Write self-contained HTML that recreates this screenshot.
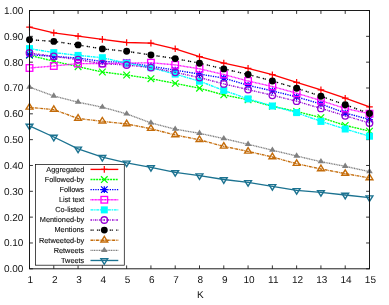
<!DOCTYPE html>
<html><head><meta charset="utf-8"><title>chart</title><style>html,body{margin:0;padding:0;background:#fff}body{width:389px;height:305px;overflow:hidden}</style></head><body>
<svg width="389" height="305" viewBox="0 0 389 305" style="display:block;font-family:'Liberation Sans',sans-serif">
<rect width="389" height="305" fill="#fff"/>
<path d="M29.5 268.8h3.4M369.5 268.8h-3.4M29.5 242.97h3.4M369.5 242.97h-3.4M29.5 217.14h3.4M369.5 217.14h-3.4M29.5 191.31h3.4M369.5 191.31h-3.4M29.5 165.48h3.4M369.5 165.48h-3.4M29.5 139.65h3.4M369.5 139.65h-3.4M29.5 113.82h3.4M369.5 113.82h-3.4M29.5 87.99h3.4M369.5 87.99h-3.4M29.5 62.16h3.4M369.5 62.16h-3.4M29.5 36.33h3.4M369.5 36.33h-3.4M29.5 10.5h3.4M369.5 10.5h-3.4M29.5 268.8v-3.4M29.5 10.5v3.4M53.79 268.8v-3.4M53.79 10.5v3.4M78.07 268.8v-3.4M78.07 10.5v3.4M102.36 268.8v-3.4M102.36 10.5v3.4M126.64 268.8v-3.4M126.64 10.5v3.4M150.93 268.8v-3.4M150.93 10.5v3.4M175.21 268.8v-3.4M175.21 10.5v3.4M199.5 268.8v-3.4M199.5 10.5v3.4M223.79 268.8v-3.4M223.79 10.5v3.4M248.07 268.8v-3.4M248.07 10.5v3.4M272.36 268.8v-3.4M272.36 10.5v3.4M296.64 268.8v-3.4M296.64 10.5v3.4M320.93 268.8v-3.4M320.93 10.5v3.4M345.21 268.8v-3.4M345.21 10.5v3.4M369.5 268.8v-3.4M369.5 10.5v3.4" stroke="#000" stroke-width="0.8" fill="none"/>
<rect x="35.6" y="164.5" width="88.7" height="100.7" fill="#fff" stroke="#111" stroke-width="0.75"/>
<g><path d="M90.5 169.4H118.3" stroke="#ff0000" stroke-width="1.35" fill="none"/><polyline points="29.5,27.2 53.79,32.9 78.07,36.2 102.36,39.4 126.64,42.5 150.93,43.1 175.21,48.8 199.5,56.7 223.79,63.1 248.07,68.4 272.36,74.7 296.64,82.3 320.93,89.9 345.21,98.2 369.5,106.8" stroke="#ff0000" stroke-width="1.35" fill="none" stroke-linejoin="round"/><path d="M101 169.4H107.6M104.3 166.1V172.7" stroke="#ff0000" stroke-width="1.2" fill="none"/><path d="M26.2 27.2H32.8M29.5 23.9V30.5" stroke="#ff0000" stroke-width="1.2" fill="none"/><path d="M50.49 32.9H57.09M53.79 29.6V36.2" stroke="#ff0000" stroke-width="1.2" fill="none"/><path d="M74.77 36.2H81.37M78.07 32.9V39.5" stroke="#ff0000" stroke-width="1.2" fill="none"/><path d="M99.06 39.4H105.66M102.36 36.1V42.7" stroke="#ff0000" stroke-width="1.2" fill="none"/><path d="M123.34 42.5H129.94M126.64 39.2V45.8" stroke="#ff0000" stroke-width="1.2" fill="none"/><path d="M147.63 43.1H154.23M150.93 39.8V46.4" stroke="#ff0000" stroke-width="1.2" fill="none"/><path d="M171.91 48.8H178.51M175.21 45.5V52.1" stroke="#ff0000" stroke-width="1.2" fill="none"/><path d="M196.2 56.7H202.8M199.5 53.4V60" stroke="#ff0000" stroke-width="1.2" fill="none"/><path d="M220.49 63.1H227.09M223.79 59.8V66.4" stroke="#ff0000" stroke-width="1.2" fill="none"/><path d="M244.77 68.4H251.37M248.07 65.1V71.7" stroke="#ff0000" stroke-width="1.2" fill="none"/><path d="M269.06 74.7H275.66M272.36 71.4V78" stroke="#ff0000" stroke-width="1.2" fill="none"/><path d="M293.34 82.3H299.94M296.64 79V85.6" stroke="#ff0000" stroke-width="1.2" fill="none"/><path d="M317.63 89.9H324.23M320.93 86.6V93.2" stroke="#ff0000" stroke-width="1.2" fill="none"/><path d="M341.91 98.2H348.51M345.21 94.9V101.5" stroke="#ff0000" stroke-width="1.2" fill="none"/><path d="M366.2 106.8H372.8M369.5 103.5V110.1" stroke="#ff0000" stroke-width="1.2" fill="none"/></g>
<g><path d="M90.5 179.52H118.3" stroke="#00ff00" stroke-width="1.35" fill="none" stroke-dasharray="2.0 0.8"/><polyline points="29.5,55.3 53.79,61.2 78.07,66.7 102.36,72 126.64,75 150.93,78.7 175.21,83.4 199.5,88.2 223.79,94.9 248.07,99.8 272.36,106.2 296.64,111.5 320.93,117.6 345.21,125.4 369.5,131.1" stroke="#00ff00" stroke-width="1.35" fill="none" stroke-dasharray="2.0 0.8" stroke-linejoin="round"/><path d="M101 176.22L107.6 182.82M101 182.82L107.6 176.22" stroke="#00ff00" stroke-width="1.2" fill="none"/><path d="M26.2 52L32.8 58.6M26.2 58.6L32.8 52" stroke="#00ff00" stroke-width="1.2" fill="none"/><path d="M50.49 57.9L57.09 64.5M50.49 64.5L57.09 57.9" stroke="#00ff00" stroke-width="1.2" fill="none"/><path d="M74.77 63.4L81.37 70M74.77 70L81.37 63.4" stroke="#00ff00" stroke-width="1.2" fill="none"/><path d="M99.06 68.7L105.66 75.3M99.06 75.3L105.66 68.7" stroke="#00ff00" stroke-width="1.2" fill="none"/><path d="M123.34 71.7L129.94 78.3M123.34 78.3L129.94 71.7" stroke="#00ff00" stroke-width="1.2" fill="none"/><path d="M147.63 75.4L154.23 82M147.63 82L154.23 75.4" stroke="#00ff00" stroke-width="1.2" fill="none"/><path d="M171.91 80.1L178.51 86.7M171.91 86.7L178.51 80.1" stroke="#00ff00" stroke-width="1.2" fill="none"/><path d="M196.2 84.9L202.8 91.5M196.2 91.5L202.8 84.9" stroke="#00ff00" stroke-width="1.2" fill="none"/><path d="M220.49 91.6L227.09 98.2M220.49 98.2L227.09 91.6" stroke="#00ff00" stroke-width="1.2" fill="none"/><path d="M244.77 96.5L251.37 103.1M244.77 103.1L251.37 96.5" stroke="#00ff00" stroke-width="1.2" fill="none"/><path d="M269.06 102.9L275.66 109.5M269.06 109.5L275.66 102.9" stroke="#00ff00" stroke-width="1.2" fill="none"/><path d="M293.34 108.2L299.94 114.8M293.34 114.8L299.94 108.2" stroke="#00ff00" stroke-width="1.2" fill="none"/><path d="M317.63 114.3L324.23 120.9M317.63 120.9L324.23 114.3" stroke="#00ff00" stroke-width="1.2" fill="none"/><path d="M341.91 122.1L348.51 128.7M341.91 128.7L348.51 122.1" stroke="#00ff00" stroke-width="1.2" fill="none"/><path d="M366.2 127.8L372.8 134.4M366.2 134.4L372.8 127.8" stroke="#00ff00" stroke-width="1.2" fill="none"/></g>
<g><path d="M90.5 189.64H118.3" stroke="#0000ff" stroke-width="1.35" fill="none" stroke-dasharray="1.3 1.1"/><polyline points="29.5,54.7 53.79,56.4 78.07,58 102.36,61.5 126.64,62.4 150.93,66.3 175.21,70.1 199.5,74.1 223.79,78.1 248.07,85.3 272.36,90.9 296.64,96.9 320.93,104 345.21,113 369.5,119.5" stroke="#0000ff" stroke-width="1.35" fill="none" stroke-dasharray="1.3 1.1" stroke-linejoin="round"/><path d="M101 189.64H107.6M104.3 186.34V192.94M101 186.34L107.6 192.94M101 192.94L107.6 186.34" stroke="#0000ff" stroke-width="1.2" fill="none"/><path d="M26.2 54.7H32.8M29.5 51.4V58M26.2 51.4L32.8 58M26.2 58L32.8 51.4" stroke="#0000ff" stroke-width="1.2" fill="none"/><path d="M50.49 56.4H57.09M53.79 53.1V59.7M50.49 53.1L57.09 59.7M50.49 59.7L57.09 53.1" stroke="#0000ff" stroke-width="1.2" fill="none"/><path d="M74.77 58H81.37M78.07 54.7V61.3M74.77 54.7L81.37 61.3M74.77 61.3L81.37 54.7" stroke="#0000ff" stroke-width="1.2" fill="none"/><path d="M99.06 61.5H105.66M102.36 58.2V64.8M99.06 58.2L105.66 64.8M99.06 64.8L105.66 58.2" stroke="#0000ff" stroke-width="1.2" fill="none"/><path d="M123.34 62.4H129.94M126.64 59.1V65.7M123.34 59.1L129.94 65.7M123.34 65.7L129.94 59.1" stroke="#0000ff" stroke-width="1.2" fill="none"/><path d="M147.63 66.3H154.23M150.93 63V69.6M147.63 63L154.23 69.6M147.63 69.6L154.23 63" stroke="#0000ff" stroke-width="1.2" fill="none"/><path d="M171.91 70.1H178.51M175.21 66.8V73.4M171.91 66.8L178.51 73.4M171.91 73.4L178.51 66.8" stroke="#0000ff" stroke-width="1.2" fill="none"/><path d="M196.2 74.1H202.8M199.5 70.8V77.4M196.2 70.8L202.8 77.4M196.2 77.4L202.8 70.8" stroke="#0000ff" stroke-width="1.2" fill="none"/><path d="M220.49 78.1H227.09M223.79 74.8V81.4M220.49 74.8L227.09 81.4M220.49 81.4L227.09 74.8" stroke="#0000ff" stroke-width="1.2" fill="none"/><path d="M244.77 85.3H251.37M248.07 82V88.6M244.77 82L251.37 88.6M244.77 88.6L251.37 82" stroke="#0000ff" stroke-width="1.2" fill="none"/><path d="M269.06 90.9H275.66M272.36 87.6V94.2M269.06 87.6L275.66 94.2M269.06 94.2L275.66 87.6" stroke="#0000ff" stroke-width="1.2" fill="none"/><path d="M293.34 96.9H299.94M296.64 93.6V100.2M293.34 93.6L299.94 100.2M293.34 100.2L299.94 93.6" stroke="#0000ff" stroke-width="1.2" fill="none"/><path d="M317.63 104H324.23M320.93 100.7V107.3M317.63 100.7L324.23 107.3M317.63 107.3L324.23 100.7" stroke="#0000ff" stroke-width="1.2" fill="none"/><path d="M341.91 113H348.51M345.21 109.7V116.3M341.91 109.7L348.51 116.3M341.91 116.3L348.51 109.7" stroke="#0000ff" stroke-width="1.2" fill="none"/><path d="M366.2 119.5H372.8M369.5 116.2V122.8M366.2 116.2L372.8 122.8M366.2 122.8L372.8 116.2" stroke="#0000ff" stroke-width="1.2" fill="none"/></g>
<g><path d="M90.5 199.76H118.3" stroke="#ff00ff" stroke-width="1.35" fill="none" stroke-dasharray="1.0 0.45"/><polyline points="29.5,68 53.79,66 78.07,63.6 102.36,63.5 126.64,63.2 150.93,62.7 175.21,64.9 199.5,68.8 223.79,74.5 248.07,81 272.36,86.5 296.64,93.2 320.93,100.6 345.21,108.5 369.5,113.7" stroke="#ff00ff" stroke-width="1.35" fill="none" stroke-dasharray="1.0 0.45" stroke-linejoin="round"/><rect x="101" y="196.46" width="6.6" height="6.6" stroke="#ff00ff" stroke-width="1.3" fill="none"/><rect x="103.7" y="199.26" width="1.2" height="1" fill="#ff00ff" opacity="0.6"/><rect x="26.2" y="64.7" width="6.6" height="6.6" stroke="#ff00ff" stroke-width="1.3" fill="none"/><rect x="28.9" y="67.5" width="1.2" height="1" fill="#ff00ff" opacity="0.6"/><rect x="50.49" y="62.7" width="6.6" height="6.6" stroke="#ff00ff" stroke-width="1.3" fill="none"/><rect x="53.19" y="65.5" width="1.2" height="1" fill="#ff00ff" opacity="0.6"/><rect x="74.77" y="60.3" width="6.6" height="6.6" stroke="#ff00ff" stroke-width="1.3" fill="none"/><rect x="77.47" y="63.1" width="1.2" height="1" fill="#ff00ff" opacity="0.6"/><rect x="99.06" y="60.2" width="6.6" height="6.6" stroke="#ff00ff" stroke-width="1.3" fill="none"/><rect x="101.76" y="63" width="1.2" height="1" fill="#ff00ff" opacity="0.6"/><rect x="123.34" y="59.9" width="6.6" height="6.6" stroke="#ff00ff" stroke-width="1.3" fill="none"/><rect x="126.04" y="62.7" width="1.2" height="1" fill="#ff00ff" opacity="0.6"/><rect x="147.63" y="59.4" width="6.6" height="6.6" stroke="#ff00ff" stroke-width="1.3" fill="none"/><rect x="150.33" y="62.2" width="1.2" height="1" fill="#ff00ff" opacity="0.6"/><rect x="171.91" y="61.6" width="6.6" height="6.6" stroke="#ff00ff" stroke-width="1.3" fill="none"/><rect x="174.61" y="64.4" width="1.2" height="1" fill="#ff00ff" opacity="0.6"/><rect x="196.2" y="65.5" width="6.6" height="6.6" stroke="#ff00ff" stroke-width="1.3" fill="none"/><rect x="198.9" y="68.3" width="1.2" height="1" fill="#ff00ff" opacity="0.6"/><rect x="220.49" y="71.2" width="6.6" height="6.6" stroke="#ff00ff" stroke-width="1.3" fill="none"/><rect x="223.19" y="74" width="1.2" height="1" fill="#ff00ff" opacity="0.6"/><rect x="244.77" y="77.7" width="6.6" height="6.6" stroke="#ff00ff" stroke-width="1.3" fill="none"/><rect x="247.47" y="80.5" width="1.2" height="1" fill="#ff00ff" opacity="0.6"/><rect x="269.06" y="83.2" width="6.6" height="6.6" stroke="#ff00ff" stroke-width="1.3" fill="none"/><rect x="271.76" y="86" width="1.2" height="1" fill="#ff00ff" opacity="0.6"/><rect x="293.34" y="89.9" width="6.6" height="6.6" stroke="#ff00ff" stroke-width="1.3" fill="none"/><rect x="296.04" y="92.7" width="1.2" height="1" fill="#ff00ff" opacity="0.6"/><rect x="317.63" y="97.3" width="6.6" height="6.6" stroke="#ff00ff" stroke-width="1.3" fill="none"/><rect x="320.33" y="100.1" width="1.2" height="1" fill="#ff00ff" opacity="0.6"/><rect x="341.91" y="105.2" width="6.6" height="6.6" stroke="#ff00ff" stroke-width="1.3" fill="none"/><rect x="344.61" y="108" width="1.2" height="1" fill="#ff00ff" opacity="0.6"/><rect x="366.2" y="110.4" width="6.6" height="6.6" stroke="#ff00ff" stroke-width="1.3" fill="none"/><rect x="368.9" y="113.2" width="1.2" height="1" fill="#ff00ff" opacity="0.6"/></g>
<g><path d="M90.5 209.88H118.3" stroke="#00ffff" stroke-width="1.35" fill="none" stroke-dasharray="3 0.7 1.4 0.7"/><polyline points="29.5,48.6 53.79,52.6 78.07,55.4 102.36,57.7 126.64,63.2 150.93,67.7 175.21,74.1 199.5,81.2 223.79,90.4 248.07,98.9 272.36,106 296.64,112.6 320.93,121.4 345.21,129 369.5,136.2" stroke="#00ffff" stroke-width="1.35" fill="none" stroke-dasharray="3 0.7 1.4 0.7" stroke-linejoin="round"/><rect x="100.8" y="206.38" width="7" height="7" fill="#00ffff"/><rect x="26" y="45.1" width="7" height="7" fill="#00ffff"/><rect x="50.29" y="49.1" width="7" height="7" fill="#00ffff"/><rect x="74.57" y="51.9" width="7" height="7" fill="#00ffff"/><rect x="98.86" y="54.2" width="7" height="7" fill="#00ffff"/><rect x="123.14" y="59.7" width="7" height="7" fill="#00ffff"/><rect x="147.43" y="64.2" width="7" height="7" fill="#00ffff"/><rect x="171.71" y="70.6" width="7" height="7" fill="#00ffff"/><rect x="196" y="77.7" width="7" height="7" fill="#00ffff"/><rect x="220.29" y="86.9" width="7" height="7" fill="#00ffff"/><rect x="244.57" y="95.4" width="7" height="7" fill="#00ffff"/><rect x="268.86" y="102.5" width="7" height="7" fill="#00ffff"/><rect x="293.14" y="109.1" width="7" height="7" fill="#00ffff"/><rect x="317.43" y="117.9" width="7" height="7" fill="#00ffff"/><rect x="341.71" y="125.5" width="7" height="7" fill="#00ffff"/><rect x="366" y="132.7" width="7" height="7" fill="#00ffff"/></g>
<g><path d="M90.5 220H118.3" stroke="#9400d3" stroke-width="1.35" fill="none" stroke-dasharray="1.6 1 0.7 1"/><polyline points="29.5,53 53.79,56.4 78.07,59.6 102.36,63.7 126.64,65 150.93,67.6 175.21,72.3 199.5,77.6 223.79,83.9 248.07,89.6 272.36,95.3 296.64,101.2 320.93,108.4 345.21,115.8 369.5,123" stroke="#9400d3" stroke-width="1.35" fill="none" stroke-dasharray="1.6 1 0.7 1" stroke-linejoin="round"/><circle cx="104.3" cy="220" r="3.25" stroke="#9400d3" stroke-width="1.3" fill="none"/><rect x="103.7" y="219.5" width="1.2" height="1" fill="#9400d3" opacity="0.6"/><circle cx="29.5" cy="53" r="3.25" stroke="#9400d3" stroke-width="1.3" fill="none"/><rect x="28.9" y="52.5" width="1.2" height="1" fill="#9400d3" opacity="0.6"/><circle cx="53.79" cy="56.4" r="3.25" stroke="#9400d3" stroke-width="1.3" fill="none"/><rect x="53.19" y="55.9" width="1.2" height="1" fill="#9400d3" opacity="0.6"/><circle cx="78.07" cy="59.6" r="3.25" stroke="#9400d3" stroke-width="1.3" fill="none"/><rect x="77.47" y="59.1" width="1.2" height="1" fill="#9400d3" opacity="0.6"/><circle cx="102.36" cy="63.7" r="3.25" stroke="#9400d3" stroke-width="1.3" fill="none"/><rect x="101.76" y="63.2" width="1.2" height="1" fill="#9400d3" opacity="0.6"/><circle cx="126.64" cy="65" r="3.25" stroke="#9400d3" stroke-width="1.3" fill="none"/><rect x="126.04" y="64.5" width="1.2" height="1" fill="#9400d3" opacity="0.6"/><circle cx="150.93" cy="67.6" r="3.25" stroke="#9400d3" stroke-width="1.3" fill="none"/><rect x="150.33" y="67.1" width="1.2" height="1" fill="#9400d3" opacity="0.6"/><circle cx="175.21" cy="72.3" r="3.25" stroke="#9400d3" stroke-width="1.3" fill="none"/><rect x="174.61" y="71.8" width="1.2" height="1" fill="#9400d3" opacity="0.6"/><circle cx="199.5" cy="77.6" r="3.25" stroke="#9400d3" stroke-width="1.3" fill="none"/><rect x="198.9" y="77.1" width="1.2" height="1" fill="#9400d3" opacity="0.6"/><circle cx="223.79" cy="83.9" r="3.25" stroke="#9400d3" stroke-width="1.3" fill="none"/><rect x="223.19" y="83.4" width="1.2" height="1" fill="#9400d3" opacity="0.6"/><circle cx="248.07" cy="89.6" r="3.25" stroke="#9400d3" stroke-width="1.3" fill="none"/><rect x="247.47" y="89.1" width="1.2" height="1" fill="#9400d3" opacity="0.6"/><circle cx="272.36" cy="95.3" r="3.25" stroke="#9400d3" stroke-width="1.3" fill="none"/><rect x="271.76" y="94.8" width="1.2" height="1" fill="#9400d3" opacity="0.6"/><circle cx="296.64" cy="101.2" r="3.25" stroke="#9400d3" stroke-width="1.3" fill="none"/><rect x="296.04" y="100.7" width="1.2" height="1" fill="#9400d3" opacity="0.6"/><circle cx="320.93" cy="108.4" r="3.25" stroke="#9400d3" stroke-width="1.3" fill="none"/><rect x="320.33" y="107.9" width="1.2" height="1" fill="#9400d3" opacity="0.6"/><circle cx="345.21" cy="115.8" r="3.25" stroke="#9400d3" stroke-width="1.3" fill="none"/><rect x="344.61" y="115.3" width="1.2" height="1" fill="#9400d3" opacity="0.6"/><circle cx="369.5" cy="123" r="3.25" stroke="#9400d3" stroke-width="1.3" fill="none"/><rect x="368.9" y="122.5" width="1.2" height="1" fill="#9400d3" opacity="0.6"/></g>
<g><path d="M90.5 230.12H118.3" stroke="#000000" stroke-width="1.35" fill="none" stroke-dasharray="1.3 0.6 1.3 3.2"/><polyline points="29.5,39.7 53.79,41.4 78.07,44.9 102.36,48.9 126.64,51.3 150.93,55 175.21,58.6 199.5,63.2 223.79,68.9 248.07,74.5 272.36,81 296.64,88.2 320.93,96.2 345.21,104.8 369.5,113.5" stroke="#000000" stroke-width="1.35" fill="none" stroke-dasharray="1.3 0.6 1.3 3.2" stroke-linejoin="round"/><circle cx="104.3" cy="230.12" r="3.45" fill="#000000"/><circle cx="29.5" cy="39.7" r="3.45" fill="#000000"/><circle cx="53.79" cy="41.4" r="3.45" fill="#000000"/><circle cx="78.07" cy="44.9" r="3.45" fill="#000000"/><circle cx="102.36" cy="48.9" r="3.45" fill="#000000"/><circle cx="126.64" cy="51.3" r="3.45" fill="#000000"/><circle cx="150.93" cy="55" r="3.45" fill="#000000"/><circle cx="175.21" cy="58.6" r="3.45" fill="#000000"/><circle cx="199.5" cy="63.2" r="3.45" fill="#000000"/><circle cx="223.79" cy="68.9" r="3.45" fill="#000000"/><circle cx="248.07" cy="74.5" r="3.45" fill="#000000"/><circle cx="272.36" cy="81" r="3.45" fill="#000000"/><circle cx="296.64" cy="88.2" r="3.45" fill="#000000"/><circle cx="320.93" cy="96.2" r="3.45" fill="#000000"/><circle cx="345.21" cy="104.8" r="3.45" fill="#000000"/><circle cx="369.5" cy="113.5" r="3.45" fill="#000000"/></g>
<g><path d="M90.5 240.24H118.3" stroke="#c46c0a" stroke-width="1.35" fill="none" stroke-dasharray="3 0.8 0.8 0.8"/><polyline points="29.5,107.4 53.79,109.6 78.07,118.5 102.36,121.3 126.64,124 150.93,128.7 175.21,135 199.5,139.8 223.79,146.4 248.07,151.4 272.36,157 296.64,163.7 320.93,169 345.21,173.6 369.5,178" stroke="#c46c0a" stroke-width="1.35" fill="none" stroke-dasharray="3 0.8 0.8 0.8" stroke-linejoin="round"/><path d="M104.3 236.43L100.9 241.94H107.7Z" stroke="#c46c0a" stroke-width="1.4" fill="none"/><rect x="103.7" y="239.74" width="1.2" height="1" fill="#c46c0a" opacity="0.6"/><path d="M29.5 103.59L26.1 109.1H32.9Z" stroke="#c46c0a" stroke-width="1.4" fill="none"/><rect x="28.9" y="106.9" width="1.2" height="1" fill="#c46c0a" opacity="0.6"/><path d="M53.79 105.79L50.39 111.3H57.19Z" stroke="#c46c0a" stroke-width="1.4" fill="none"/><rect x="53.19" y="109.1" width="1.2" height="1" fill="#c46c0a" opacity="0.6"/><path d="M78.07 114.69L74.67 120.2H81.47Z" stroke="#c46c0a" stroke-width="1.4" fill="none"/><rect x="77.47" y="118" width="1.2" height="1" fill="#c46c0a" opacity="0.6"/><path d="M102.36 117.49L98.96 123H105.76Z" stroke="#c46c0a" stroke-width="1.4" fill="none"/><rect x="101.76" y="120.8" width="1.2" height="1" fill="#c46c0a" opacity="0.6"/><path d="M126.64 120.19L123.24 125.7H130.04Z" stroke="#c46c0a" stroke-width="1.4" fill="none"/><rect x="126.04" y="123.5" width="1.2" height="1" fill="#c46c0a" opacity="0.6"/><path d="M150.93 124.89L147.53 130.4H154.33Z" stroke="#c46c0a" stroke-width="1.4" fill="none"/><rect x="150.33" y="128.2" width="1.2" height="1" fill="#c46c0a" opacity="0.6"/><path d="M175.21 131.19L171.81 136.7H178.61Z" stroke="#c46c0a" stroke-width="1.4" fill="none"/><rect x="174.61" y="134.5" width="1.2" height="1" fill="#c46c0a" opacity="0.6"/><path d="M199.5 135.99L196.1 141.5H202.9Z" stroke="#c46c0a" stroke-width="1.4" fill="none"/><rect x="198.9" y="139.3" width="1.2" height="1" fill="#c46c0a" opacity="0.6"/><path d="M223.79 142.59L220.39 148.1H227.19Z" stroke="#c46c0a" stroke-width="1.4" fill="none"/><rect x="223.19" y="145.9" width="1.2" height="1" fill="#c46c0a" opacity="0.6"/><path d="M248.07 147.59L244.67 153.1H251.47Z" stroke="#c46c0a" stroke-width="1.4" fill="none"/><rect x="247.47" y="150.9" width="1.2" height="1" fill="#c46c0a" opacity="0.6"/><path d="M272.36 153.19L268.96 158.7H275.76Z" stroke="#c46c0a" stroke-width="1.4" fill="none"/><rect x="271.76" y="156.5" width="1.2" height="1" fill="#c46c0a" opacity="0.6"/><path d="M296.64 159.89L293.24 165.4H300.04Z" stroke="#c46c0a" stroke-width="1.4" fill="none"/><rect x="296.04" y="163.2" width="1.2" height="1" fill="#c46c0a" opacity="0.6"/><path d="M320.93 165.19L317.53 170.7H324.33Z" stroke="#c46c0a" stroke-width="1.4" fill="none"/><rect x="320.33" y="168.5" width="1.2" height="1" fill="#c46c0a" opacity="0.6"/><path d="M345.21 169.79L341.81 175.3H348.61Z" stroke="#c46c0a" stroke-width="1.4" fill="none"/><rect x="344.61" y="173.1" width="1.2" height="1" fill="#c46c0a" opacity="0.6"/><path d="M369.5 174.19L366.1 179.7H372.9Z" stroke="#c46c0a" stroke-width="1.4" fill="none"/><rect x="368.9" y="177.5" width="1.2" height="1" fill="#c46c0a" opacity="0.6"/></g>
<g><path d="M90.5 250.36H118.3" stroke="#808080" stroke-width="1.35" fill="none" stroke-dasharray="1.1 0.6"/><polyline points="29.5,87.1 53.79,96 78.07,102.2 102.36,107.2 126.64,113.9 150.93,122.9 175.21,129.2 199.5,133.3 223.79,138.6 248.07,144.3 272.36,150.2 296.64,156 320.93,161.7 345.21,166.3 369.5,171.7" stroke="#808080" stroke-width="1.35" fill="none" stroke-dasharray="1.1 0.6" stroke-linejoin="round"/><path d="M104.3 246.66L101 252.01H107.6Z" fill="#808080"/><path d="M29.5 83.4L26.2 88.75H32.8Z" fill="#808080"/><path d="M53.79 92.3L50.49 97.65H57.09Z" fill="#808080"/><path d="M78.07 98.5L74.77 103.85H81.37Z" fill="#808080"/><path d="M102.36 103.5L99.06 108.85H105.66Z" fill="#808080"/><path d="M126.64 110.2L123.34 115.55H129.94Z" fill="#808080"/><path d="M150.93 119.2L147.63 124.55H154.23Z" fill="#808080"/><path d="M175.21 125.5L171.91 130.85H178.51Z" fill="#808080"/><path d="M199.5 129.6L196.2 134.95H202.8Z" fill="#808080"/><path d="M223.79 134.9L220.49 140.25H227.09Z" fill="#808080"/><path d="M248.07 140.6L244.77 145.95H251.37Z" fill="#808080"/><path d="M272.36 146.5L269.06 151.85H275.66Z" fill="#808080"/><path d="M296.64 152.3L293.34 157.65H299.94Z" fill="#808080"/><path d="M320.93 158L317.63 163.35H324.23Z" fill="#808080"/><path d="M345.21 162.6L341.91 167.95H348.51Z" fill="#808080"/><path d="M369.5 168L366.2 173.35H372.8Z" fill="#808080"/></g>
<g><path d="M90.5 260.48H118.3" stroke="#1b7290" stroke-width="1.35" fill="none"/><polyline points="29.5,125.9 53.79,137 78.07,148.8 102.36,157.2 126.64,162.8 150.93,167.4 175.21,172.4 199.5,175.6 223.79,179.5 248.07,182.3 272.36,186.3 296.64,190.3 320.93,192.4 345.21,195 369.5,197.6" stroke="#1b7290" stroke-width="1.35" fill="none" stroke-linejoin="round"/><path d="M104.3 264.29L100.9 258.78H107.7Z" stroke="#1b7290" stroke-width="1.4" fill="none"/><rect x="103.7" y="259.98" width="1.2" height="1" fill="#1b7290" opacity="0.6"/><path d="M29.5 129.71L26.1 124.2H32.9Z" stroke="#1b7290" stroke-width="1.4" fill="none"/><rect x="28.9" y="125.4" width="1.2" height="1" fill="#1b7290" opacity="0.6"/><path d="M53.79 140.81L50.39 135.3H57.19Z" stroke="#1b7290" stroke-width="1.4" fill="none"/><rect x="53.19" y="136.5" width="1.2" height="1" fill="#1b7290" opacity="0.6"/><path d="M78.07 152.61L74.67 147.1H81.47Z" stroke="#1b7290" stroke-width="1.4" fill="none"/><rect x="77.47" y="148.3" width="1.2" height="1" fill="#1b7290" opacity="0.6"/><path d="M102.36 161.01L98.96 155.5H105.76Z" stroke="#1b7290" stroke-width="1.4" fill="none"/><rect x="101.76" y="156.7" width="1.2" height="1" fill="#1b7290" opacity="0.6"/><path d="M126.64 166.61L123.24 161.1H130.04Z" stroke="#1b7290" stroke-width="1.4" fill="none"/><rect x="126.04" y="162.3" width="1.2" height="1" fill="#1b7290" opacity="0.6"/><path d="M150.93 171.21L147.53 165.7H154.33Z" stroke="#1b7290" stroke-width="1.4" fill="none"/><rect x="150.33" y="166.9" width="1.2" height="1" fill="#1b7290" opacity="0.6"/><path d="M175.21 176.21L171.81 170.7H178.61Z" stroke="#1b7290" stroke-width="1.4" fill="none"/><rect x="174.61" y="171.9" width="1.2" height="1" fill="#1b7290" opacity="0.6"/><path d="M199.5 179.41L196.1 173.9H202.9Z" stroke="#1b7290" stroke-width="1.4" fill="none"/><rect x="198.9" y="175.1" width="1.2" height="1" fill="#1b7290" opacity="0.6"/><path d="M223.79 183.31L220.39 177.8H227.19Z" stroke="#1b7290" stroke-width="1.4" fill="none"/><rect x="223.19" y="179" width="1.2" height="1" fill="#1b7290" opacity="0.6"/><path d="M248.07 186.11L244.67 180.6H251.47Z" stroke="#1b7290" stroke-width="1.4" fill="none"/><rect x="247.47" y="181.8" width="1.2" height="1" fill="#1b7290" opacity="0.6"/><path d="M272.36 190.11L268.96 184.6H275.76Z" stroke="#1b7290" stroke-width="1.4" fill="none"/><rect x="271.76" y="185.8" width="1.2" height="1" fill="#1b7290" opacity="0.6"/><path d="M296.64 194.11L293.24 188.6H300.04Z" stroke="#1b7290" stroke-width="1.4" fill="none"/><rect x="296.04" y="189.8" width="1.2" height="1" fill="#1b7290" opacity="0.6"/><path d="M320.93 196.21L317.53 190.7H324.33Z" stroke="#1b7290" stroke-width="1.4" fill="none"/><rect x="320.33" y="191.9" width="1.2" height="1" fill="#1b7290" opacity="0.6"/><path d="M345.21 198.81L341.81 193.3H348.61Z" stroke="#1b7290" stroke-width="1.4" fill="none"/><rect x="344.61" y="194.5" width="1.2" height="1" fill="#1b7290" opacity="0.6"/><path d="M369.5 201.41L366.1 195.9H372.9Z" stroke="#1b7290" stroke-width="1.4" fill="none"/><rect x="368.9" y="197.1" width="1.2" height="1" fill="#1b7290" opacity="0.6"/></g>
<defs><filter id="ga" x="0" y="0" width="389" height="305" filterUnits="userSpaceOnUse"><feOffset dx="0" dy="0"/></filter></defs>
<g filter="url(#ga)" style="text-rendering:geometricPrecision"><text x="23.4" y="272.3" font-size="10" text-anchor="end" fill="#111">0.00</text><text x="23.4" y="246.47" font-size="10" text-anchor="end" fill="#111">0.10</text><text x="23.4" y="220.64" font-size="10" text-anchor="end" fill="#111">0.20</text><text x="23.4" y="194.81" font-size="10" text-anchor="end" fill="#111">0.30</text><text x="23.4" y="168.98" font-size="10" text-anchor="end" fill="#111">0.40</text><text x="23.4" y="143.15" font-size="10" text-anchor="end" fill="#111">0.50</text><text x="23.4" y="117.32" font-size="10" text-anchor="end" fill="#111">0.60</text><text x="23.4" y="91.49" font-size="10" text-anchor="end" fill="#111">0.70</text><text x="23.4" y="65.66" font-size="10" text-anchor="end" fill="#111">0.80</text><text x="23.4" y="39.83" font-size="10" text-anchor="end" fill="#111">0.90</text><text x="23.4" y="14" font-size="10" text-anchor="end" fill="#111">1.00</text><text x="30.4" y="282.5" font-size="10" text-anchor="middle" fill="#111">1</text><text x="54.69" y="282.5" font-size="10" text-anchor="middle" fill="#111">2</text><text x="78.97" y="282.5" font-size="10" text-anchor="middle" fill="#111">3</text><text x="103.26" y="282.5" font-size="10" text-anchor="middle" fill="#111">4</text><text x="127.54" y="282.5" font-size="10" text-anchor="middle" fill="#111">5</text><text x="151.83" y="282.5" font-size="10" text-anchor="middle" fill="#111">6</text><text x="176.11" y="282.5" font-size="10" text-anchor="middle" fill="#111">7</text><text x="200.4" y="282.5" font-size="10" text-anchor="middle" fill="#111">8</text><text x="224.69" y="282.5" font-size="10" text-anchor="middle" fill="#111">9</text><text x="248.97" y="282.5" font-size="10" text-anchor="middle" fill="#111">10</text><text x="273.26" y="282.5" font-size="10" text-anchor="middle" fill="#111">11</text><text x="297.54" y="282.5" font-size="10" text-anchor="middle" fill="#111">12</text><text x="321.83" y="282.5" font-size="10" text-anchor="middle" fill="#111">13</text><text x="346.11" y="282.5" font-size="10" text-anchor="middle" fill="#111">14</text><text x="370.4" y="282.5" font-size="10" text-anchor="middle" fill="#111">15</text><text x="200.3" y="297.7" font-size="10" text-anchor="middle" fill="#111">K</text><text x="84.3" y="171.7" font-size="7.35" stroke="#111" stroke-width="0.12" text-anchor="end" fill="#111">Aggregated</text><text x="84.3" y="181.82" font-size="7.35" stroke="#111" stroke-width="0.12" text-anchor="end" fill="#111">Followed-by</text><text x="84.3" y="191.94" font-size="7.35" stroke="#111" stroke-width="0.12" text-anchor="end" fill="#111">Follows</text><text x="84.3" y="202.06" font-size="7.35" stroke="#111" stroke-width="0.12" text-anchor="end" fill="#111">List text</text><text x="84.3" y="212.18" font-size="7.35" stroke="#111" stroke-width="0.12" text-anchor="end" fill="#111">Co-listed</text><text x="84.3" y="222.3" font-size="7.35" stroke="#111" stroke-width="0.12" text-anchor="end" fill="#111">Mentioned-by</text><text x="84.3" y="232.42" font-size="7.35" stroke="#111" stroke-width="0.12" text-anchor="end" fill="#111">Mentions</text><text x="84.3" y="242.54" font-size="7.35" stroke="#111" stroke-width="0.12" text-anchor="end" fill="#111">Retweeted-by</text><text x="84.3" y="252.66" font-size="7.35" stroke="#111" stroke-width="0.12" text-anchor="end" fill="#111">Retweets</text><text x="84.3" y="262.78" font-size="7.35" stroke="#111" stroke-width="0.12" text-anchor="end" fill="#111">Tweets</text></g>
<rect x="29.5" y="10.5" width="340" height="258.3" fill="none" stroke="#111" stroke-width="0.95"/>
</svg>
</body></html>
